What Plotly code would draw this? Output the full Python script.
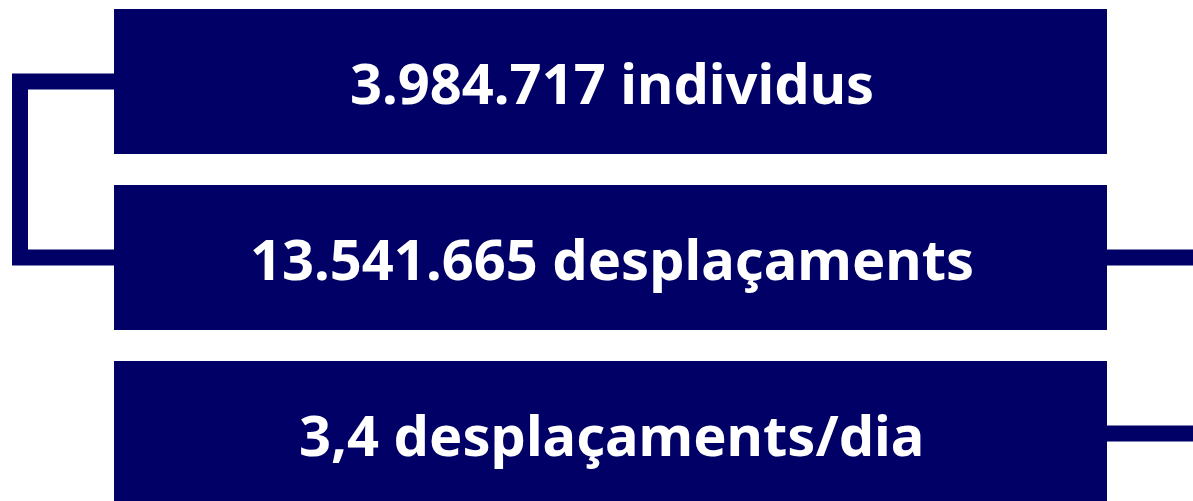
import plotly.graph_objects as go

labels = ["3.984.717 individus", "13.541.665 desplaçaments", "3,4 desplaçaments/dia"]
positions = [0, 1, 2]

NAVY = "#000066"
W, H = 1193, 501
box_left, box_right = 114, 1107
pitch = 176.0
first_center = 81.5

fig = go.Figure()

fig.add_trace(go.Bar(
    y=positions, x=[box_right - box_left] * len(positions), base=box_left,
    orientation="h", width=145 / pitch,
    marker=dict(color=NAVY, line=dict(width=0)),
    hoverinfo="skip", showlegend=False,
))

# bracket linking first two boxes
fig.add_trace(go.Scatter(
    x=[box_left + 2, 20, 20, box_left + 2], y=[positions[0], positions[0], positions[1], positions[1]],
    mode="lines", line=dict(color=NAVY, width=16), hoverinfo="skip", showlegend=False,
))
# right stubs
for p in positions[1:]:
    fig.add_trace(go.Scatter(
        x=[box_right - 2, W + 20], y=[p, p], mode="lines",
        line=dict(color=NAVY, width=16), hoverinfo="skip", showlegend=False,
    ))

for p, t in zip(positions, labels):
    fig.add_annotation(
        x=(box_left + box_right) / 2 + 1, y=p, text=t, showarrow=False,
        font=dict(family="Noto Sans", size=56, color="white", weight="bold"),
        xanchor="center", yanchor="middle",
    )

y_top = -first_center / pitch
y_bot = (H - first_center) / pitch
fig.update_layout(
    width=W, height=H, margin=dict(l=0, r=0, t=0, b=0),
    paper_bgcolor="white", plot_bgcolor="white",
    xaxis=dict(range=[0, W], visible=False, fixedrange=True),
    yaxis=dict(range=[y_bot, y_top], visible=False, fixedrange=True),
    bargap=0,
)
fig.write_html(
    "out.html",
    config={"displayModeBar": False},
    post_script="document.body.style.margin='0';document.body.style.overflow='hidden';",
)
